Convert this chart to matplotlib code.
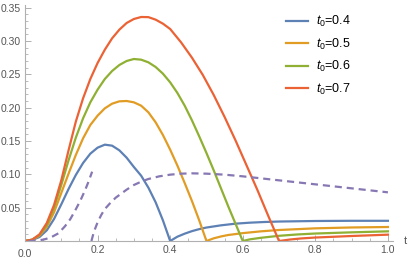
import matplotlib
matplotlib.use("Agg")
import matplotlib.pyplot as plt
from matplotlib.ticker import MultipleLocator

plt.rcParams['font.family'] = ['Liberation Sans', 'DejaVu Sans']
plt.rcParams['mathtext.fontset'] = 'custom'
plt.rcParams['mathtext.it'] = 'Liberation Sans:italic'
plt.rcParams['mathtext.rm'] = 'Liberation Sans'

# values (t, value)
t_blue = [0, 0.02, 0.04, 0.06, 0.08, 0.1, 0.12, 0.14, 0.16, 0.18, 0.2, 0.22, 0.24, 0.26,
          0.28, 0.3, 0.32, 0.34, 0.36, 0.38, 0.4,
          0.42, 0.44, 0.46, 0.48, 0.5, 0.54, 0.58, 0.62, 0.66, 0.7, 0.8, 0.9, 1.0]
v_blue = [0, 0.0015, 0.006, 0.016, 0.033, 0.055, 0.078, 0.099, 0.117, 0.131, 0.140, 0.1445,
          0.143, 0.136, 0.125, 0.111, 0.098, 0.08, 0.058, 0.031, 0.0,
          0.0065, 0.011, 0.0148, 0.0178, 0.0202, 0.0235, 0.026, 0.0275, 0.0285, 0.0292,
          0.0300, 0.0303, 0.0303]

t_orange = [0, 0.02, 0.04, 0.06, 0.08, 0.1, 0.12, 0.14, 0.16, 0.18, 0.2, 0.22, 0.24, 0.26,
            0.28, 0.3, 0.32, 0.34, 0.36, 0.38, 0.4, 0.42, 0.44, 0.46, 0.48, 0.5,
            0.52, 0.54, 0.56, 0.6, 0.65, 0.7, 0.8, 0.9, 1.0]
v_orange = [0, 0.002, 0.008, 0.021, 0.043, 0.072, 0.101, 0.129, 0.154, 0.174, 0.188, 0.199,
            0.206, 0.2095, 0.21, 0.208, 0.203, 0.193, 0.178, 0.159, 0.137, 0.113, 0.087,
            0.06, 0.031, 0.0,
            0.004, 0.0068, 0.009, 0.0118, 0.0145, 0.0165, 0.019, 0.0203, 0.021]

t_green = [0, 0.02, 0.04, 0.06, 0.08, 0.1, 0.12, 0.14, 0.16, 0.18, 0.2, 0.22, 0.24, 0.26,
           0.28, 0.3, 0.32, 0.34, 0.36, 0.38, 0.4, 0.42, 0.44, 0.46, 0.48, 0.5, 0.52, 0.54,
           0.56, 0.58, 0.6,
           0.62, 0.65, 0.7, 0.75, 0.8, 0.9, 1.0]
v_green = [0, 0.002, 0.009, 0.024, 0.05, 0.084, 0.121, 0.155, 0.184, 0.208, 0.227, 0.243,
           0.255, 0.264, 0.27, 0.273, 0.272, 0.268, 0.261, 0.251, 0.238, 0.222, 0.203,
           0.181, 0.157, 0.132, 0.106, 0.079, 0.052, 0.026, 0.0,
           0.0025, 0.0048, 0.0078, 0.0098, 0.0112, 0.013, 0.0145]

t_red = [0, 0.02, 0.04, 0.06, 0.08, 0.1, 0.12, 0.14, 0.16, 0.18, 0.2, 0.22, 0.24, 0.26,
         0.28, 0.3, 0.32, 0.34, 0.36, 0.38, 0.4, 0.43, 0.46, 0.49, 0.52, 0.55, 0.58, 0.61,
         0.64, 0.67, 0.7,
         0.73, 0.76, 0.8, 0.9, 1.0]
v_red = [0, 0.002, 0.01, 0.027, 0.054, 0.091, 0.136, 0.179, 0.214, 0.243, 0.267, 0.287,
         0.304, 0.317, 0.327, 0.333, 0.336, 0.3358, 0.332, 0.326, 0.318, 0.298, 0.275,
         0.249, 0.219, 0.186, 0.151, 0.114, 0.077, 0.038, 0.0,
         0.0022, 0.0038, 0.0052, 0.0075, 0.0095]

# dashed reference curve, two branches
t_dash1 = [0.01, 0.03, 0.05, 0.07, 0.092, 0.11, 0.125, 0.138, 0.152, 0.165, 0.175, 0.185]
v_dash1 = [0.0, 0.0005, 0.002, 0.005, 0.0115, 0.022, 0.033, 0.0455, 0.06, 0.0755, 0.089, 0.104]
t_dash2 = [0.183, 0.19, 0.2, 0.21, 0.22, 0.235, 0.25, 0.265, 0.28, 0.3, 0.32, 0.34, 0.37,
           0.4, 0.43, 0.46, 0.5, 0.55, 0.6, 0.65, 0.7, 0.8, 0.9, 1.0]
v_dash2 = [0.0, 0.014, 0.028, 0.039, 0.048, 0.057, 0.065, 0.071, 0.077, 0.084, 0.089, 0.093,
           0.097, 0.0995, 0.101, 0.1015, 0.101, 0.0995, 0.097, 0.094, 0.091, 0.085, 0.079,
           0.073]

labels = [r'$t_0$=0.4', r'$t_0$=0.5', r'$t_0$=0.6', r'$t_0$=0.7']
colors = ['#5E81B5', '#E19C24', '#8FB032', '#EB6235']
dash_color = '#8778B3'

dpi = 100
fig = plt.figure(figsize=(409 / dpi, 260 / dpi), dpi=dpi)
ax = fig.add_axes([25 / 409, 19 / 260, 368 / 409, 236 / 260])

series = [(t_blue, v_blue), (t_orange, v_orange), (t_green, v_green), (t_red, v_red)]
for (t, v), c, lab in zip(series, colors, labels):
    ax.plot(t, v, color=c, lw=1.6, label=lab, solid_joinstyle='round')

ax.plot(t_dash1, v_dash1, color=dash_color, lw=1.6, ls=(0, (3.2, 2.2)))
ax.plot(t_dash2, v_dash2, color=dash_color, lw=1.6, ls=(0, (3.2, 2.2)))

ax.set_xlim(0, 1.014)
ax.set_ylim(0, 0.354)
for s in ['top', 'right']:
    ax.spines[s].set_visible(False)
for s in ['left', 'bottom']:
    ax.spines[s].set_color('#b0b0b0')
    ax.spines[s].set_linewidth(0.8)

ax.xaxis.set_minor_locator(MultipleLocator(0.05))
ax.yaxis.set_minor_locator(MultipleLocator(0.01))
ax.set_xticks([0.2, 0.4, 0.6, 0.8, 1.0])
ax.set_xticklabels(['0.2', '0.4', '0.6', '0.8', '1.0'])
ax.set_yticks([0.05, 0.1, 0.15, 0.2, 0.25, 0.3, 0.35])
ax.set_yticklabels(['0.05', '0.10', '0.15', '0.20', '0.25', '0.30', '0.35'])
ax.tick_params(which='both', direction='in', color='#b0b0b0', labelcolor='#555555',
               labelsize=7.5, pad=3)
ax.tick_params(which='major', length=4, width=0.7)
ax.tick_params(which='minor', length=2, width=0.6)
ax.text(0, -0.012, '0.0', ha='center', va='top', fontsize=7.5, color='#555555')
ax.annotate('t', xy=(1.0, 0), xycoords=('axes fraction', 'data'), xytext=(8, 0),
            textcoords='offset points', ha='left', va='center', fontsize=8, color='#555555')

ax.legend(loc='upper left', bbox_to_anchor=(0.68, 1.01), frameon=False, fontsize=9,
          handlelength=1.7, handletextpad=0.7, labelspacing=0.6)

fig.savefig('out.png', dpi=dpi)
